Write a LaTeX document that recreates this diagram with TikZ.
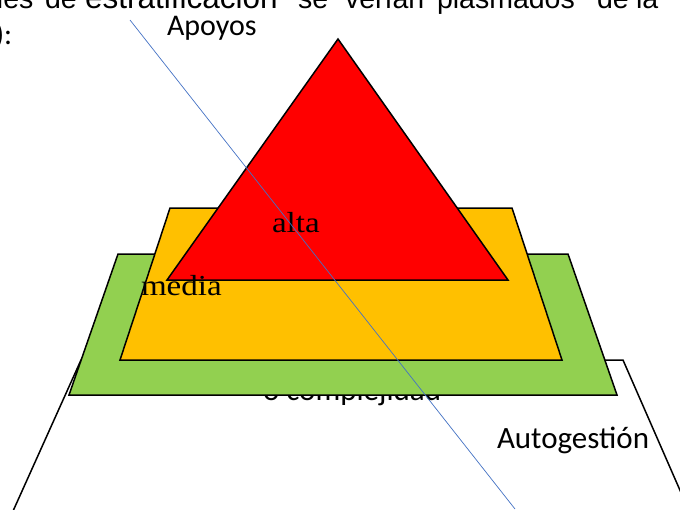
\documentclass[tikz,border=0pt]{standalone}
\usepackage{fontspec}
\setmainfont{Carlito}
\newfontfamily\arialf{Liberation Sans}
\newfontfamily\serf[FakeStretch=1.14]{Liberation Serif}
\begin{document}
\begin{tikzpicture}[x=1pt,y=-1pt,
  lbl/.style={inner sep=0pt,outer sep=0pt,anchor=base west,font=\fontsize{30}{36}\selectfont},
  toptxt/.style={lbl,font=\arialf\fontsize{28.5}{34}\selectfont},
  sertxt/.style={lbl,font=\serf\fontsize{29}{34}\selectfont},
  layer/.style={draw=black,line width=1.5pt,line join=miter}]
\useasboundingbox (0,0) rectangle (680,509);
\clip (0,0) rectangle (680,509);
\definecolor{pred}{HTML}{FF0000}
\definecolor{pyel}{HTML}{FFC000}
\definecolor{pgrn}{HTML}{92D050}
\definecolor{pblu}{HTML}{4472C4}
% top cut-off text line
\node[toptxt] (w1) at (-3,8) {les};
\node[toptxt] (w2) at (45,8) {de};
\node[toptxt,font=\arialf\fontsize{31.5}{36}\selectfont] (w3) at (85,8) {estratificación};
\node[toptxt] (w4) at (298,8) {se};
\node[toptxt] (w5) at (345,8) {verían};
\node[toptxt] (w6) at (437,8) {plasmados};
\node[toptxt] (w7) at (597,8) {de};
\node[toptxt] (w8) at (636,8) {la};
\node[lbl] (paren) at (-5,44) {):};
\node[lbl] (apoyos) at (167,35) {Apoyos};
% background trapezoid
\filldraw[layer,fill=white] (81,360) -- (623,360) -- (693,520) -- (9,520) -- cycle;
\node[lbl,font=\fontsize{31}{36}\selectfont] (compl) at (263,400) {o complejidad};
% pyramid layers
\filldraw[layer,fill=pgrn] (118,254) -- (568,254) -- (617,395) -- (69,395) -- cycle;
\filldraw[layer,fill=pyel] (170,208) -- (512,208) -- (562,360) -- (120,360) -- cycle;
\filldraw[layer,fill=pred] (338,39) -- (508,280) -- (167,280) -- cycle;
\node[sertxt] (media) at (141,295) {media};
\node[sertxt] (alta) at (272,232) {alta};
\node[lbl,font=\fontsize{31}{36}\selectfont] (auto) at (497,448) {Autogestión};
% diagonal guide line
\coordinate (g1) at (130,20);
\coordinate (g2) at (515,509);
\draw[line width=0.7pt,draw=pblu] (g1) -- (g2);
\end{tikzpicture}
\end{document}
